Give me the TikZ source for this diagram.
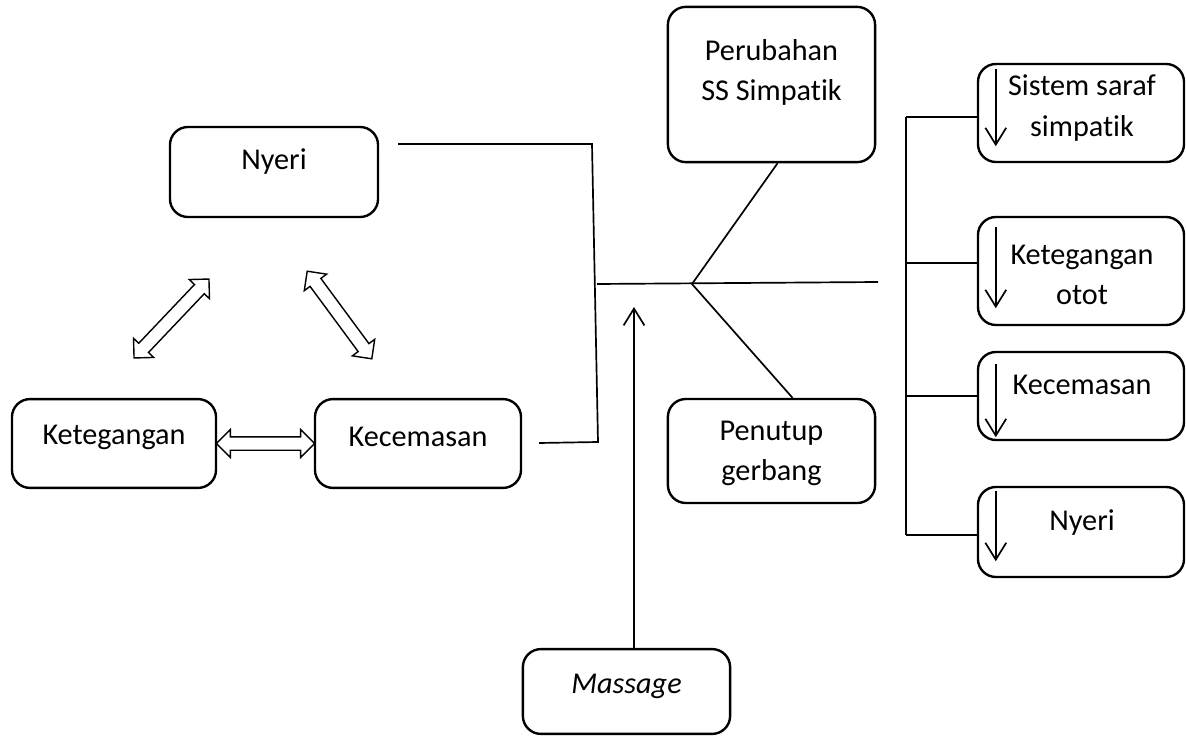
\documentclass[tikz,border=0pt]{standalone}
\usepackage{fontspec}
\setmainfont{Carlito}[Ligatures=NoCommon]
\usetikzlibrary{arrows.meta,shapes.arrows,calc}

\tikzset{
  kotak/.style={draw, line width=1.7pt, rounded corners=0.45cm, inner sep=0pt},
  teks/.style={align=center, inner sep=0pt, font=\fontsize{21.5}{28.5}\selectfont},
  garis/.style={line width=1.2pt},
  panah/.style={line width=1.2pt, -{Straight Barb[length=0.42cm,width=0.52cm]}},
  dua/.style={draw, double arrow, line width=1pt, inner xsep=0pt, inner ysep=0.15cm,
    double arrow head extend=0.18cm},
}

\begin{document}
\begin{tikzpicture}[x=0.025cm, y=-0.025cm]
	\useasboundingbox (0,0) rectangle (1186,736);
	%\draw[help lines] (0,0) grid[step=50] (1186,736);
	% kiri
	\node[kotak, minimum width=5.2cm, minimum height=2.25cm] (nyeri) at (274,172) {};
	\node[teks] (nyeri-t) at (274,162) {Nyeri};
	\node[kotak, minimum width=5.1cm, minimum height=2.22cm] (teg) at (114,443.5) {};
	\node[teks] (teg-t) at (114,437) {Ketegangan};
	\node[kotak, minimum width=5.15cm, minimum height=2.22cm] (cem) at (418,443.5) {};
	\node[teks] (cem-t) at (418,437) {Kecemasan};
	\node[dua, minimum height=2.72cm, rotate=46.5] (p1) at (171.5,318.5) {};
	\node[dua, minimum height=2.72cm, rotate=126.4] (p2) at (339.5,315) {};
	\node[dua, minimum height=2.45cm] (p3) at ($(teg.east)!0.5!(cem.west)$) {};
	% tengah
	\node[kotak, minimum width=5.18cm, minimum height=3.88cm] (perub) at (771.5,84.5) {};
	\node[teks] (perub-t) at (771.5,72) {Perubahan\\SS Simpatik};
	\node[kotak, minimum width=5.18cm, minimum height=2.6cm] (penut) at (771.5,451) {};
	\node[teks] (penut-t) at (771.5,453) {Penutup\\gerbang};
	\node[kotak, minimum width=5.18cm, minimum height=2.12cm] (mas) at (626.5,691.5) {};
	\node[teks] (mas-t) at (626.5,686) {\itshape Massage};
	% kanan
	\node[kotak, minimum width=5.15cm, minimum height=2.45cm] (r1) at (1081,113) {};
	\node[teks] (r1-t) at (1082,108) {Sistem saraf\\simpatik};
	\node[kotak, minimum width=5.15cm, minimum height=2.7cm] (r2) at (1081,271) {};
	\node[teks] (r2-t) at (1082,275) {Ketegangan\\otot};
	\node[kotak, minimum width=5.15cm, minimum height=2.2cm] (r3) at (1081,396) {};
	\node[teks] (r3-t) at (1082,385) {Kecemasan};
	\node[kotak, minimum width=5.15cm, minimum height=2.25cm] (r4) at (1081,532) {};
	\node[teks] (r4-t) at (1082,523) {Nyeri};
	\draw[panah] ([shift={(19,6)}]r1.north west) -- ([shift={(19,-17)}]r1.south west);
	\draw[panah] ([shift={(19,11)}]r2.north west) -- ([shift={(19,-18)}]r2.south west);
	\draw[panah] ([shift={(19,13)}]r3.north west) -- ([shift={(19,-4)}]r3.south west);
	\draw[panah] ([shift={(19,5)}]r4.north west) -- ([shift={(19,-17)}]r4.south west);
	% garis
	\coordinate (a) at (398,144);
	\coordinate (b) at (592,144);
	\coordinate (c) at (598,442);
	\coordinate (d) at (539,443);
	\draw[garis] (a) -- (b) -- (c) -- (d);
	\coordinate (s1) at (597,284);
	\coordinate (j) at (692,284);
	\coordinate (s2) at (878,282);
	\draw[garis] (s1) -- (s2);
	\draw[garis] ([shift={(6,0)}]perub.south) -- (j) -- ([shift={(21,0)}]penut.north);
	\coordinate (m) at (634,307);
	\draw[panah] (mas.north -| m) -- (m);
	\coordinate (v1) at (906,117);
	\coordinate (v2) at (906,263);
	\coordinate (v3) at (906,396);
	\coordinate (v4) at (906,535);
	\draw[garis] (v1) -- (v4);
	\draw[garis] (v1) -- (v1 -| r1.west);
	\draw[garis] (v2) -- (v2 -| r2.west);
	\draw[garis] (v3) -- (v3 -| r3.west);
	\draw[garis] (v4) -- (v4 -| r4.west);
\end{tikzpicture}
\end{document}
